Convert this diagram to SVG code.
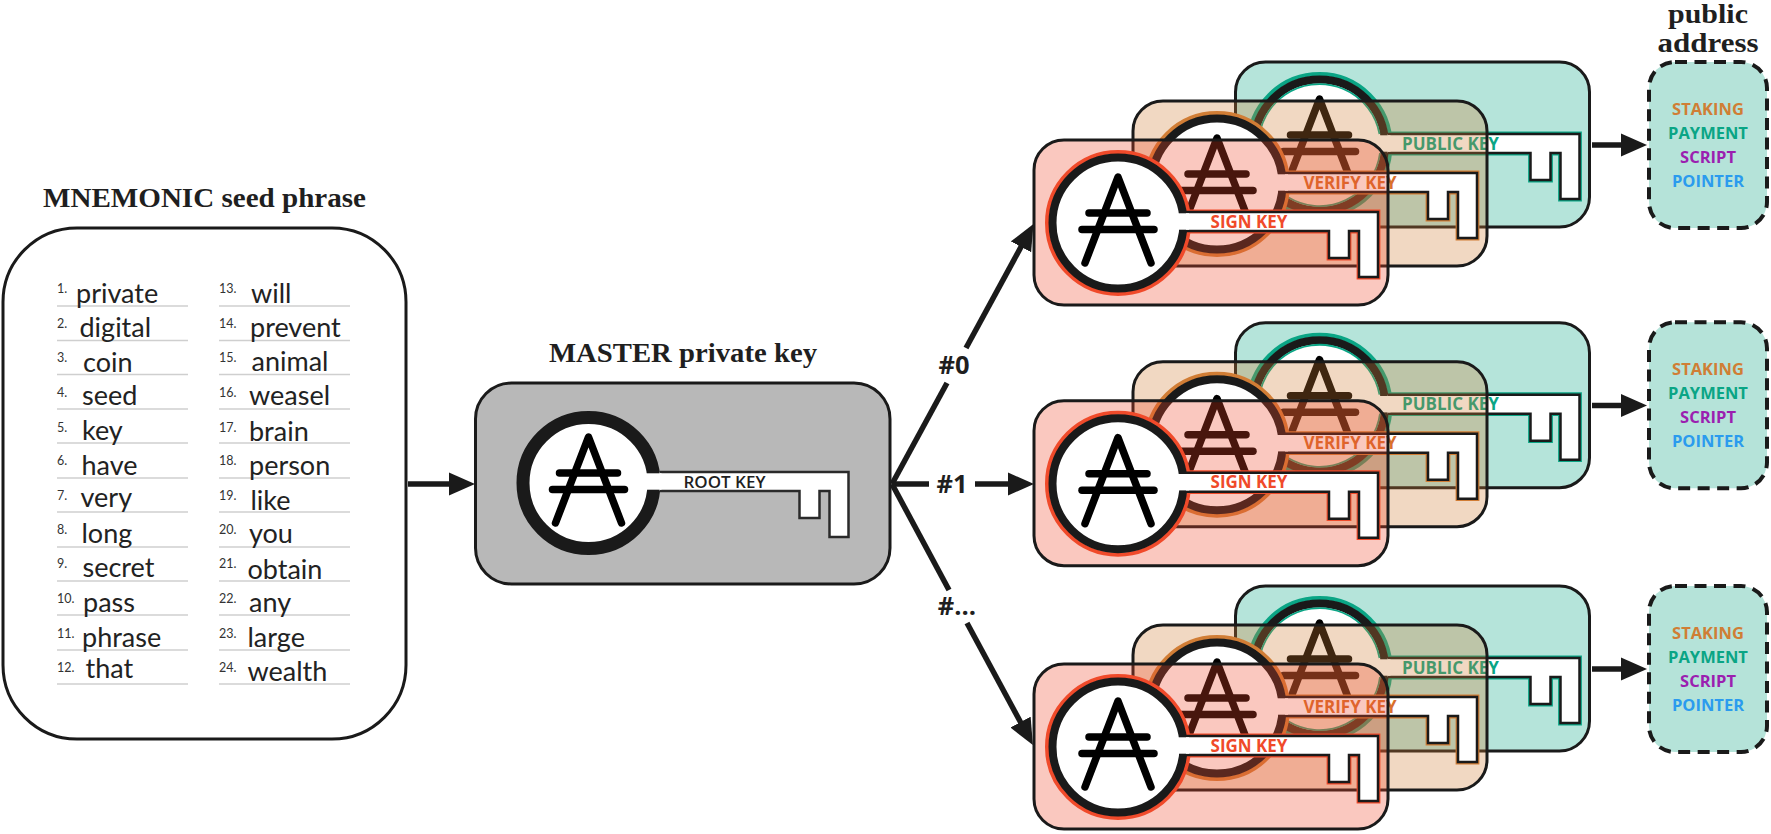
<svg xmlns="http://www.w3.org/2000/svg" xmlns:xlink="http://www.w3.org/1999/xlink" width="1771" height="834" viewBox="0 0 1771 834">
<style>
text{font-family:"Open Sans","Liberation Sans",sans-serif}
.title{font-family:"Liberation Serif","DejaVu Serif",serif;font-weight:700;fill:#1f1f1f;font-size:27px}
.w{font-family:Lato,"Open Sans",sans-serif;font-size:27px;fill:#222}
.n{font-family:Lato,"Open Sans",sans-serif;font-size:12.5px;fill:#333}
.rule{stroke:#cfcfcf;stroke-width:1.5}
.box{stroke:#1a1a1a;stroke-width:3}
.pub{fill:#0aa585;fill-opacity:.3;color:#0aa585}
.ver{fill:#d17d35;fill-opacity:.3;color:#d17d35}
.sig{fill:#f04a2a;fill-opacity:.3;color:#f04a2a}
.kl{font-size:17px;font-weight:700;text-anchor:middle}
.lab{font-size:25.5px;font-weight:700;fill:#1f1f1f;text-anchor:middle}
.ad{font-size:16.5px;font-weight:700;text-anchor:middle}
.conn{stroke:#1a1a1a;stroke-width:5.5;fill:none}
.addr{fill:#b5e3d9;stroke:#1a1a1a;stroke-width:4;stroke-dasharray:12 7.5}
</style>
<defs>
<marker id="head" markerUnits="userSpaceOnUse" markerWidth="27" markerHeight="24" refX="1" refY="12" orient="auto"><path d="M0,0.5 L26,12 L0,23.5 Z" fill="#1a1a1a"/></marker>
<g id="glyph" fill="none" stroke="#000" stroke-width="7.5" stroke-linecap="round" stroke-linejoin="round">
<path d="M-33,40 L0,-46 L33,40"/><path d="M-29,-10 H29"/><path d="M-36,6.500 H36"/>
</g>
<g id="key">
<circle r="71" fill="none" stroke="currentColor" stroke-width="4"/>
<circle r="65.500" fill="#fff" stroke="#1a1a1a" stroke-width="8"/>
<use href="#glyph"/>
<path d="M70,-12.500 H261.500 V55.500 H239.500 V9.500 H232.500 V36.500 H209.500 V9.500 H70" fill="none" stroke="currentColor" stroke-width="1.800"/>
<path d="M68,-11 H260 V54 H241 V8 H231 V35 H211 V8 H68" fill="#fff" stroke="#1a1a1a" stroke-width="2.500"/>
<rect x="59" y="-9.700" width="12" height="16.400" fill="#fff"/>
</g>
<path id="inner-edge" d="M60,-11 A61,61 0 1 0 60.500,8" fill="none" stroke="#0aa585" stroke-width="1.800"/>
</defs>

<g id="connectors">
<path class="conn" d="M408,484 H450" marker-end="url(#head)"/>
<path class="conn" d="M892,484 L947,383"/>
<path class="conn" d="M966,348 L1021.500,246" marker-end="url(#head)"/>
<path class="conn" d="M892,484 H929"/>
<path class="conn" d="M975,484 H1009" marker-end="url(#head)"/>
<path class="conn" d="M892,484 L949,590"/>
<path class="conn" d="M967,623 L1021,723" marker-end="url(#head)"/>
<path class="conn" d="M1592,145 H1622" marker-end="url(#head)"/>
<path class="conn" d="M1592,405.500 H1622" marker-end="url(#head)"/>
<path class="conn" d="M1592,669 H1622" marker-end="url(#head)"/>
</g>

<g id="connector-labels">
<text class="lab" x="954" y="374">#0</text>
<text class="lab" x="952" y="492.500">#1</text>
<text class="lab" x="957" y="615">#...</text>
</g>

<g id="mnemonic">
<text class="title" x="43" y="207" textLength="323" lengthAdjust="spacingAndGlyphs">MNEMONIC seed phrase</text>
<rect class="box" x="3" y="228" width="403" height="511" rx="74" fill="#fff"/>
<g class="rule">
<path d="M57,306 H188 M57,340.500 H188 M57,374.500 H188 M57,409 H188 M57,443 H188 M57,478 H188 M57,512 H188 M57,547 H188 M57,581 H188 M57,615 H188 M57,650 H188 M57,684 H188"/>
<path d="M219,306 H350 M219,340.500 H350 M219,374.500 H350 M219,409 H350 M219,443 H350 M219,478 H350 M219,512 H350 M219,547 H350 M219,581 H350 M219,615 H350 M219,650 H350 M219,684 H350"/>
</g>
<text class="n" x="57" y="293">1.</text><text class="w" x="76" y="303">private</text>
<text class="n" x="57" y="328">2.</text><text class="w" x="79.500" y="337">digital</text>
<text class="n" x="57" y="362">3.</text><text class="w" x="83" y="371.500">coin</text>
<text class="n" x="57" y="397">4.</text><text class="w" x="82" y="405">seed</text>
<text class="n" x="57" y="432">5.</text><text class="w" x="82" y="439.500">key</text>
<text class="n" x="57" y="465">6.</text><text class="w" x="81.500" y="475">have</text>
<text class="n" x="57" y="500">7.</text><text class="w" x="80.500" y="507">very</text>
<text class="n" x="57" y="534">8.</text><text class="w" x="81.500" y="543">long</text>
<text class="n" x="57" y="568">9.</text><text class="w" x="82.500" y="577">secret</text>
<text class="n" x="57" y="603">10.</text><text class="w" x="83" y="612">pass</text>
<text class="n" x="57" y="638">11.</text><text class="w" x="82" y="647">phrase</text>
<text class="n" x="57" y="672">12.</text><text class="w" x="85.500" y="678">that</text>
<text class="n" x="219" y="293">13.</text><text class="w" x="251" y="302.500">will</text>
<text class="n" x="219" y="328">14.</text><text class="w" x="250" y="336.500">prevent</text>
<text class="n" x="219" y="362">15.</text><text class="w" x="251.500" y="371">animal</text>
<text class="n" x="219" y="397">16.</text><text class="w" x="249" y="405">weasel</text>
<text class="n" x="219" y="432">17.</text><text class="w" x="249" y="440.500">brain</text>
<text class="n" x="219" y="465">18.</text><text class="w" x="249" y="475">person</text>
<text class="n" x="219" y="500">19.</text><text class="w" x="250.500" y="510">like</text>
<text class="n" x="219" y="534">20.</text><text class="w" x="249" y="543">you</text>
<text class="n" x="219" y="568">21.</text><text class="w" x="247.500" y="579">obtain</text>
<text class="n" x="219" y="603">22.</text><text class="w" x="249" y="612">any</text>
<text class="n" x="219" y="638">23.</text><text class="w" x="247.500" y="647">large</text>
<text class="n" x="219" y="672">24.</text><text class="w" x="247.500" y="681">wealth</text>
</g>

<g id="master">
<text class="title" x="549" y="362" textLength="268" lengthAdjust="spacingAndGlyphs">MASTER private key</text>
<rect class="box" x="475.500" y="383" width="414.500" height="201" rx="36" fill="#b8b8b8"/>
<g transform="translate(588.500,483)">
<circle r="65.500" fill="#fff" stroke="#1a1a1a" stroke-width="13"/>
<use href="#glyph"/>
<path d="M71,-11 H260 V54 H241 V8 H231 V35 H211 V8 H71" fill="#fff" stroke="#2a2a2a" stroke-width="2.500"/>
<rect x="56" y="-9.700" width="17" height="16.400" fill="#fff"/>
<text class="kl" x="136" y="5" fill="#1f1f1f" style="font-weight:600">ROOT KEY</text>
</g>
</g>

<g id="stack0-public" class="pub" transform="translate(1319.500,145)"><rect class="box" x="-84" y="-83" width="354" height="165" rx="30"/><use href="#key" fill-opacity="1"/><use href="#inner-edge"/><text class="kl" x="131" y="4.500" style="fill:#0aa585;fill-opacity:1">PUBLIC KEY</text></g>
<g id="stack0-verify" class="ver" transform="translate(1217,184)"><rect class="box" x="-84" y="-83" width="354" height="165" rx="30"/><use href="#key" fill-opacity="1"/><text class="kl" x="133" y="4.500" style="fill:#d9702c;fill-opacity:1">VERIFY KEY</text></g>
<g id="stack0-sign" class="sig" transform="translate(1118,223)"><rect class="box" x="-84" y="-83" width="354" height="165" rx="30"/><use href="#key" fill-opacity="1"/><text class="kl" x="131" y="4.500" style="fill:#f04a2a;fill-opacity:1">SIGN KEY</text></g>

<g id="stack1-public" class="pub" transform="translate(1319.500,405.700)"><rect class="box" x="-84" y="-83" width="354" height="165" rx="30"/><use href="#key" fill-opacity="1"/><use href="#inner-edge"/><text class="kl" x="131" y="4.500" style="fill:#0aa585;fill-opacity:1">PUBLIC KEY</text></g>
<g id="stack1-verify" class="ver" transform="translate(1217,444.700)"><rect class="box" x="-84" y="-83" width="354" height="165" rx="30"/><use href="#key" fill-opacity="1"/><text class="kl" x="133" y="4.500" style="fill:#d9702c;fill-opacity:1">VERIFY KEY</text></g>
<g id="stack1-sign" class="sig" transform="translate(1118,483.700)"><rect class="box" x="-84" y="-83" width="354" height="165" rx="30"/><use href="#key" fill-opacity="1"/><text class="kl" x="131" y="4.500" style="fill:#f04a2a;fill-opacity:1">SIGN KEY</text></g>

<g id="stack2-public" class="pub" transform="translate(1319.500,669)"><rect class="box" x="-84" y="-83" width="354" height="165" rx="30"/><use href="#key" fill-opacity="1"/><use href="#inner-edge"/><text class="kl" x="131" y="4.500" style="fill:#0aa585;fill-opacity:1">PUBLIC KEY</text></g>
<g id="stack2-verify" class="ver" transform="translate(1217,708)"><rect class="box" x="-84" y="-83" width="354" height="165" rx="30"/><use href="#key" fill-opacity="1"/><text class="kl" x="133" y="4.500" style="fill:#d9702c;fill-opacity:1">VERIFY KEY</text></g>
<g id="stack2-sign" class="sig" transform="translate(1118,747)"><rect class="box" x="-84" y="-83" width="354" height="165" rx="30"/><use href="#key" fill-opacity="1"/><text class="kl" x="131" y="4.500" style="fill:#f04a2a;fill-opacity:1">SIGN KEY</text></g>

<g id="address-title">
<text class="title" x="1708" y="23" text-anchor="middle" textLength="80" lengthAdjust="spacingAndGlyphs">public</text>
<text class="title" x="1708" y="51.500" text-anchor="middle" textLength="101" lengthAdjust="spacingAndGlyphs">address</text>
</g>
<g id="address-0"><rect class="addr" x="1649" y="62" width="118" height="166" rx="26"/><text class="ad" x="1708" y="115" fill="#d07e35">STAKING</text><text class="ad" x="1708" y="139" fill="#0aa585">PAYMENT</text><text class="ad" x="1708" y="163" fill="#9b1fb0">SCRIPT</text><text class="ad" x="1708" y="187" fill="#2b9bee">POINTER</text></g>
<g id="address-1"><rect class="addr" x="1649" y="322.300" width="118" height="166" rx="26"/><text class="ad" x="1708" y="375" fill="#d07e35">STAKING</text><text class="ad" x="1708" y="399" fill="#0aa585">PAYMENT</text><text class="ad" x="1708" y="423" fill="#9b1fb0">SCRIPT</text><text class="ad" x="1708" y="447" fill="#2b9bee">POINTER</text></g>
<g id="address-2"><rect class="addr" x="1649" y="586" width="118" height="166" rx="26"/><text class="ad" x="1708" y="639" fill="#d07e35">STAKING</text><text class="ad" x="1708" y="663" fill="#0aa585">PAYMENT</text><text class="ad" x="1708" y="687" fill="#9b1fb0">SCRIPT</text><text class="ad" x="1708" y="711" fill="#2b9bee">POINTER</text></g>
</svg>
